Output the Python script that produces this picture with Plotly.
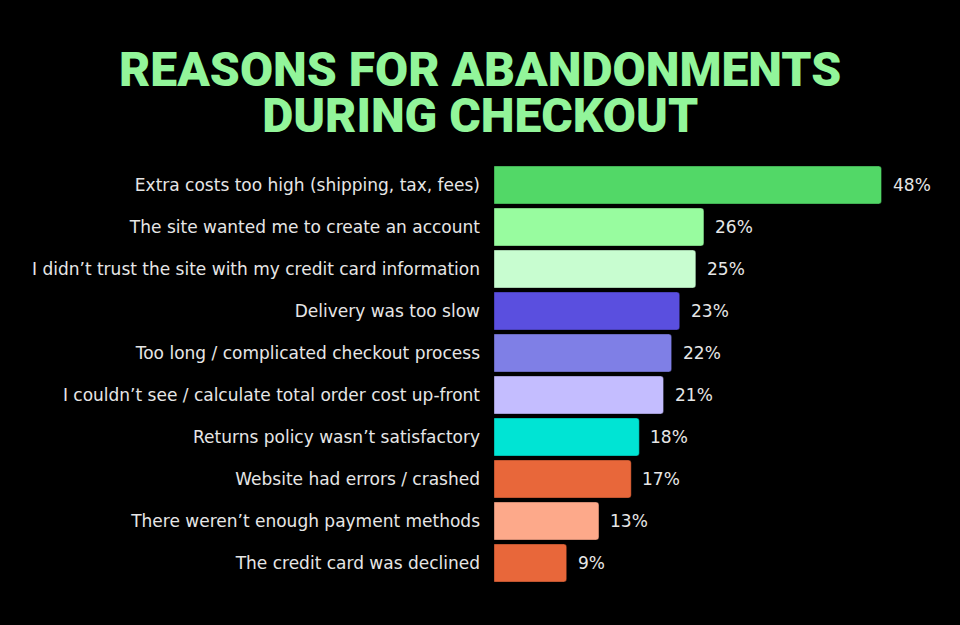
import plotly.graph_objects as go

categories = [
    "Extra costs too high (shipping, tax, fees)",
    "The site wanted me to create an account",
    "I didn’t trust the site with my credit card information",
    "Delivery was too slow",
    "Too long / complicated checkout process",
    "I couldn’t see / calculate total order cost up-front",
    "Returns policy wasn’t satisfactory",
    "Website had errors / crashed",
    "There weren’t enough payment methods",
    "The credit card was declined",
]
values = [48, 26, 25, 23, 22, 21, 18, 17, 13, 9]
bar_colors = ["#52d867", "#98fc9f", "#c8fdd0", "#5a4fdf", "#7f7fe6",
              "#c4bdff", "#00e4d4", "#e8673a", "#fda98a", "#e8673a"]
title_lines = ["REASONS FOR ABANDONMENTS", "DURING CHECKOUT"]

text_color = "#e6e6e6"
font_family = "DejaVu Sans, sans-serif"

plot_left = 494
plot_right_margin = 20
plot_width = 960 - plot_left - plot_right_margin
px_per_unit = (881.5 - 494) / 48.0
x_max = plot_width / px_per_unit

fig = go.Figure(go.Bar(
    x=values,
    y=categories,
    orientation="h",
    marker=dict(color=bar_colors, line=dict(color="rgba(0,0,0,0.35)", width=1),
                cornerradius=3),
    hoverinfo="skip",
))

annotations = []
for c, v in zip(categories, values):
    annotations.append(dict(
        x=v, y=c, xref="x", yref="y", text=f"{v}%", showarrow=False,
        xanchor="left", yanchor="middle", xshift=9,
        font=dict(family=font_family, size=17, color=text_color),
    ))

title_x = (480 - plot_left) / plot_width
title_text = "<br>".join(f"<span style='font-size:48px'>{t}</span>" for t in title_lines)
annotations.append(dict(
    x=title_x, xref="paper", y=(584 - 93) / 420, yref="paper", text=title_text,
    showarrow=False, xanchor="center", yanchor="middle", align="center",
    font=dict(family="Roboto, sans-serif", size=35, color="#92f59a", weight=900),
))

fig.update_layout(
    width=960, height=625,
    paper_bgcolor="#000000", plot_bgcolor="#000000",
    margin=dict(l=plot_left, r=plot_right_margin, t=164, b=41),
    bargap=0.095,
    showlegend=False,
    xaxis=dict(range=[0, x_max], visible=False, fixedrange=True),
    yaxis=dict(autorange="reversed", showgrid=False, zeroline=False, showline=False,
               ticks="", ticklabelstandoff=13,
               tickfont=dict(family=font_family, size=17, color=text_color)),
    annotations=annotations,
)

fig.write_html(
    "out.html",
    config={"displayModeBar": False},
    post_script="document.body.style.margin='0';document.body.style.background='#000';",
)
